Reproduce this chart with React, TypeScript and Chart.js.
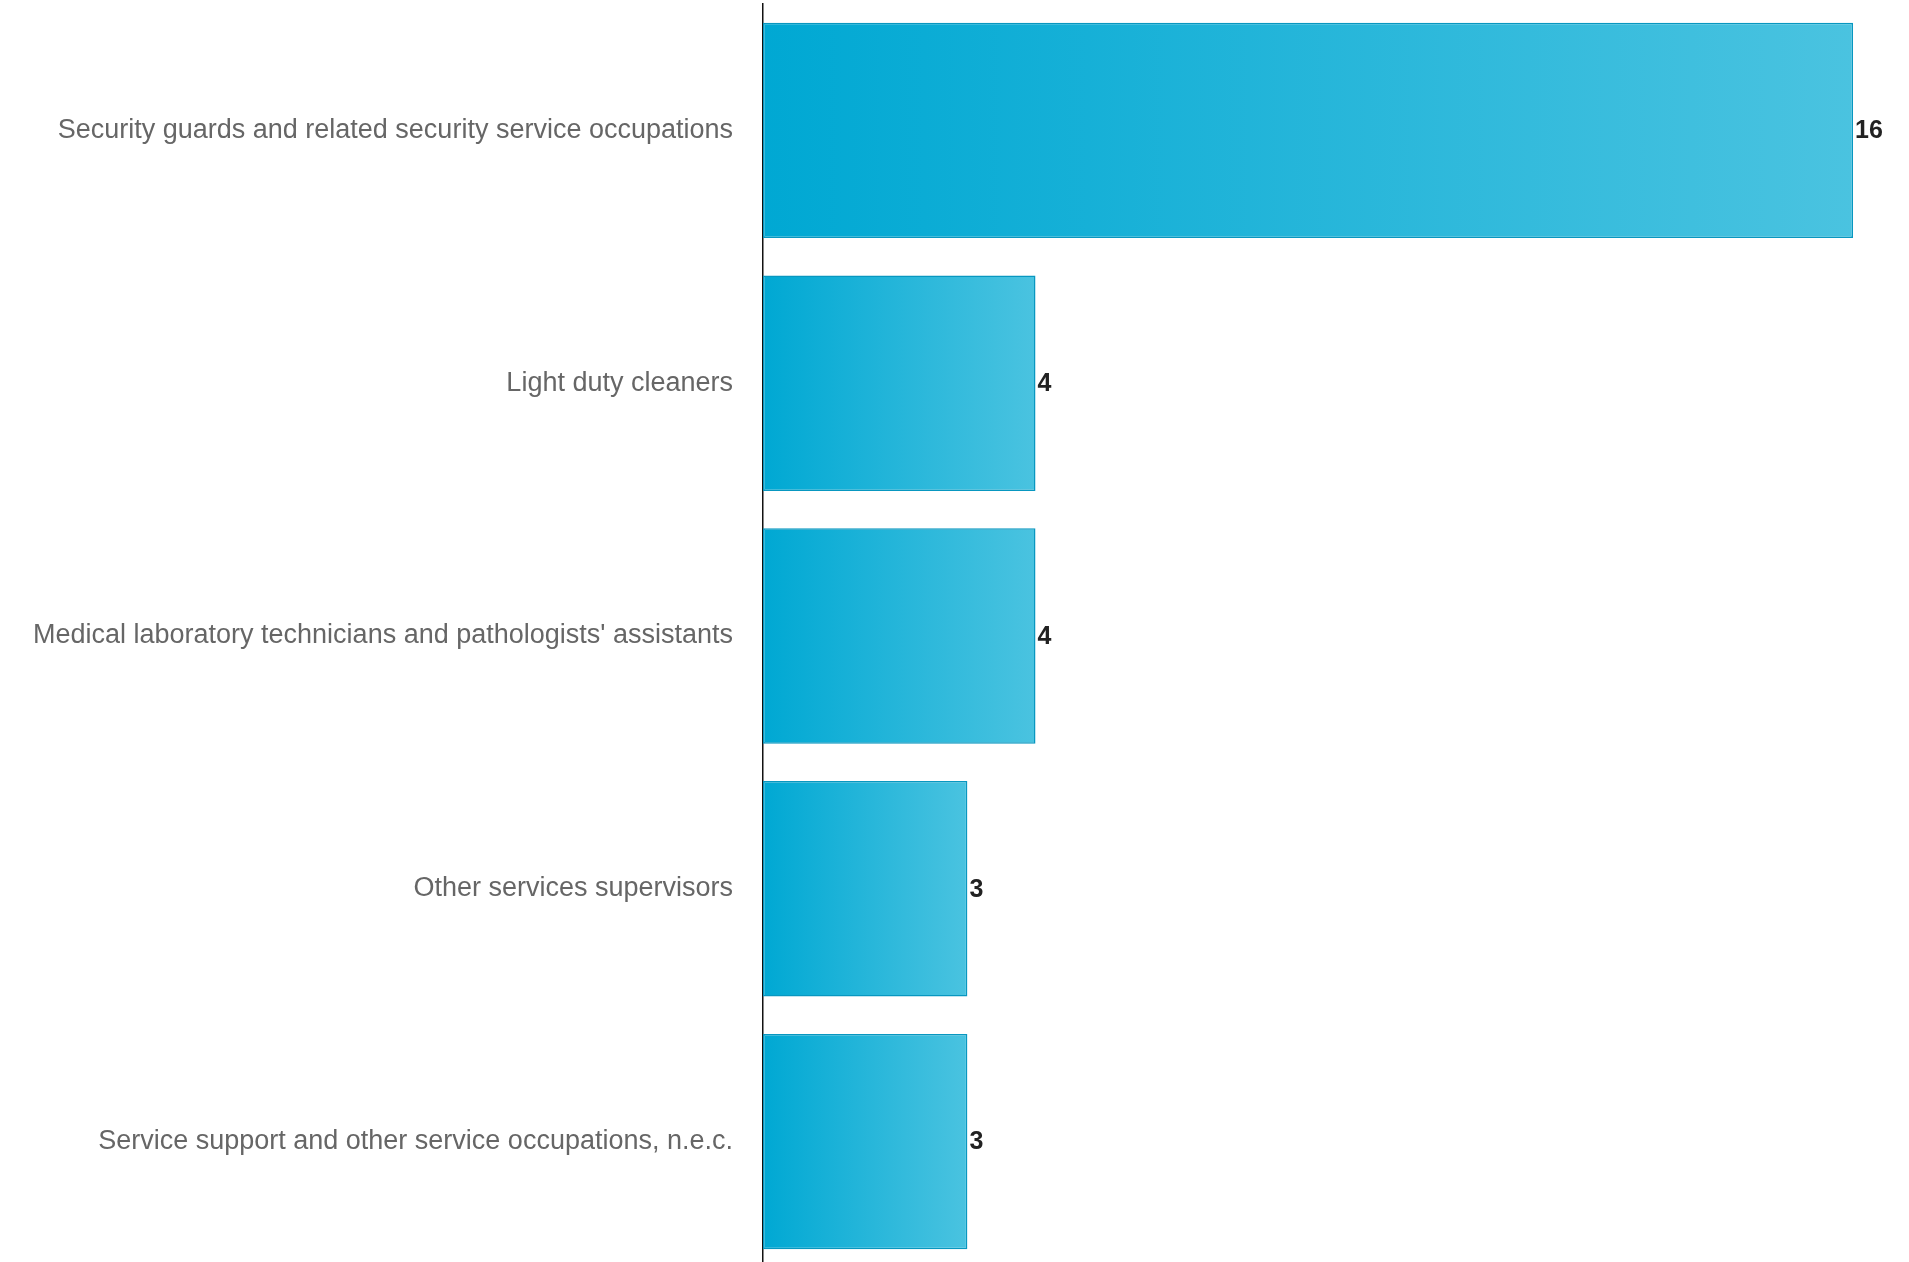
import React, { useEffect, useRef } from "react";
import { Chart, registerables } from "chart.js";

Chart.register(...registerables);

const categories: string[] = [
  "Security guards and related security service occupations",
  "Light duty cleaners",
  "Medical laboratory technicians and pathologists' assistants",
  "Other services supervisors",
  "Service support and other service occupations, n.e.c.",
];
const values: number[] = [16, 4, 4, 3, 3];
const xMax = 16;

const valueLabelPlugin = {
  id: "valueLabels",
  afterDatasetsDraw(chart: any) {
    const { ctx } = chart;
    const meta = chart.getDatasetMeta(0);
    ctx.save();
    ctx.font = "bold 25px 'Liberation Sans', Arial, sans-serif";
    ctx.fillStyle = "#222222";
    ctx.textAlign = "left";
    ctx.textBaseline = "middle";
    meta.data.forEach((el: any, i: number) => {
      ctx.fillText(String(values[i]), el.x + 2, el.y + 1);
    });
    ctx.restore();
  },
};

export default function App() {
  const ref = useRef<HTMLCanvasElement | null>(null);
  useEffect(() => {
    if (!ref.current) return;
    const chart = new Chart(ref.current, {
      type: "bar",
      data: {
        labels: categories,
        datasets: [
          {
            data: values,
            backgroundColor: (c: any) => {
              const ch = c.chart;
              const xs = ch.scales && ch.scales.x;
              if (!xs || c.dataIndex === undefined) return "#1BB4DA";
              const x0 = xs.getPixelForValue(0);
              const x1 = xs.getPixelForValue(values[c.dataIndex]);
              if (!isFinite(x0) || !isFinite(x1) || x1 <= x0) return "#1BB4DA";
              const g = ch.ctx.createLinearGradient(x0, 0, x1, 0);
              g.addColorStop(0, "#00A8D3");
              g.addColorStop(1, "#4AC3E0");
              return g;
            },
            borderColor: "#0897C0",
            borderWidth: 1.5,
            borderSkipped: false,
            barPercentage: 0.852,
            categoryPercentage: 1,
          },
        ],
      },
      options: {
        indexAxis: "y",
        animation: false,
        responsive: false,
        maintainAspectRatio: false,
        layout: { padding: { top: 4, right: 56, bottom: 0, left: 0 } },
        plugins: {
          legend: { display: false },
          tooltip: { enabled: false },
        },
        scales: {
          x: {
            min: 0,
            max: xMax,
            display: false,
            grid: { display: false },
          },
          y: {
            grid: { display: false, drawTicks: false },
            border: { display: true, color: "#111111", width: 1.5 },
            ticks: {
              padding: 30,
              color: "#666666",
              font: { family: "'Liberation Sans', Arial, sans-serif", size: 27 },
            },
            afterFit: (s: any) => {
              s.width = 763;
              s.paddingTop = 0;
              s.paddingBottom = 0;
            },
          },
        },
      },
      plugins: [valueLabelPlugin],
    } as any);
    return () => chart.destroy();
  }, []);
  return (
    <div style={{ position: "fixed", left: 0, top: 0, width: 1909, height: 1268, background: "#fff" }}>
      <canvas ref={ref} width={1909} height={1268} style={{ display: "block" }} />
    </div>
  );
}
